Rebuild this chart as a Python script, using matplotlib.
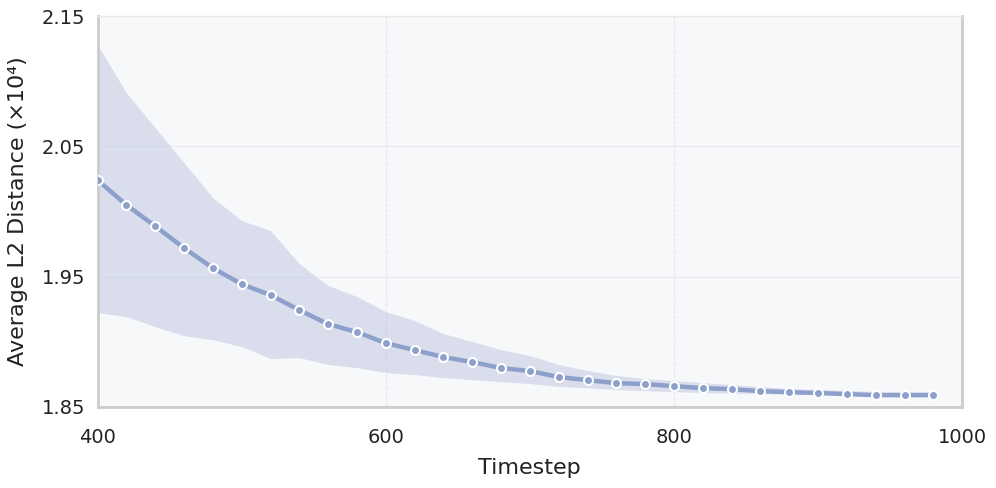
import numpy as np
import matplotlib.pyplot as plt

# timesteps and average L2 distance (x1e4) with band
timesteps = list(range(400, 1000, 20))
mean_dist = [2.0241, 2.0050, 1.9888, 1.9720, 1.9566, 1.9443, 1.9359, 1.9244, 1.9136, 1.9075,
             1.8990, 1.8937, 1.8883, 1.8845, 1.8799, 1.8776, 1.8730, 1.8706, 1.8683, 1.8676,
             1.8660, 1.8645, 1.8637, 1.8622, 1.8614, 1.8607, 1.8599, 1.8591, 1.8591, 1.8591]
upper = [2.1285, 2.0917, 2.0648, 2.0380, 2.0111, 1.9934, 1.9858, 1.9604, 1.9436, 1.9351,
         1.9236, 1.9167, 1.9067, 1.9006, 1.8944, 1.8898, 1.8829, 1.8783, 1.8745, 1.8722,
         1.8706, 1.8691, 1.8676, 1.8660, 1.8645, 1.8637, 1.8630, 1.8622, 1.8620, 1.8620]
lower = [1.9221, 1.9190, 1.9113, 1.9044, 1.9013, 1.8960, 1.8868, 1.8875, 1.8822, 1.8799,
         1.8760, 1.8745, 1.8722, 1.8706, 1.8691, 1.8676, 1.8653, 1.8645, 1.8630, 1.8622,
         1.8614, 1.8607, 1.8603, 1.8599, 1.8595, 1.8591, 1.8588, 1.8585, 1.8583, 1.8582]

xticks = [400, 600, 800, 1000]
yticks = [1.85, 1.95, 2.05, 2.15]

color = "#8da0cb"
text_color = "#222222"

fig, ax = plt.subplots(figsize=(9.96, 4.88), dpi=100)
ax.set_facecolor("#f7f8fa")

ax.fill_between(timesteps, lower, upper, color="#c5cce4", alpha=0.6,
                edgecolor="white", linewidth=0.8, zorder=2)
ax.plot(timesteps, mean_dist, color=color, linewidth=3.2, marker="o", markersize=6.5,
        markerfacecolor=color, markeredgecolor="white", markeredgewidth=1.5, zorder=3)

ax.set_xlim(400, 1000)
ax.set_ylim(1.85, 2.15)
ax.set_xticks(xticks)
ax.set_yticks(yticks)
ax.set_yticklabels(["%.2f" % v for v in yticks])
ax.tick_params(axis="y", length=0, labelsize=14, pad=9, labelcolor=text_color)
ax.tick_params(axis="x", length=0, labelsize=14, pad=15, labelcolor=text_color)

# grid: dashed vertical, solid horizontal
ax.xaxis.grid(True, linestyle="--", color="#e3e5ea", linewidth=0.8)
ax.yaxis.grid(True, linestyle="-", color="#e8e9ee", linewidth=0.8)
ax.set_axisbelow(True)

for side in ["left", "bottom", "right"]:
    ax.spines[side].set_color("#cccccc")
    ax.spines[side].set_linewidth(2)
ax.spines["top"].set_color("#e8e8e8")
ax.spines["top"].set_linewidth(1)

ax.set_xlabel("Timestep", fontsize=16, labelpad=8, color=text_color)
ax.set_ylabel("Average L2 Distance (×10⁴)", fontsize=16, labelpad=10, color=text_color)

plt.subplots_adjust(left=0.098, right=0.966, top=0.967, bottom=0.166)
plt.savefig("out.png")
